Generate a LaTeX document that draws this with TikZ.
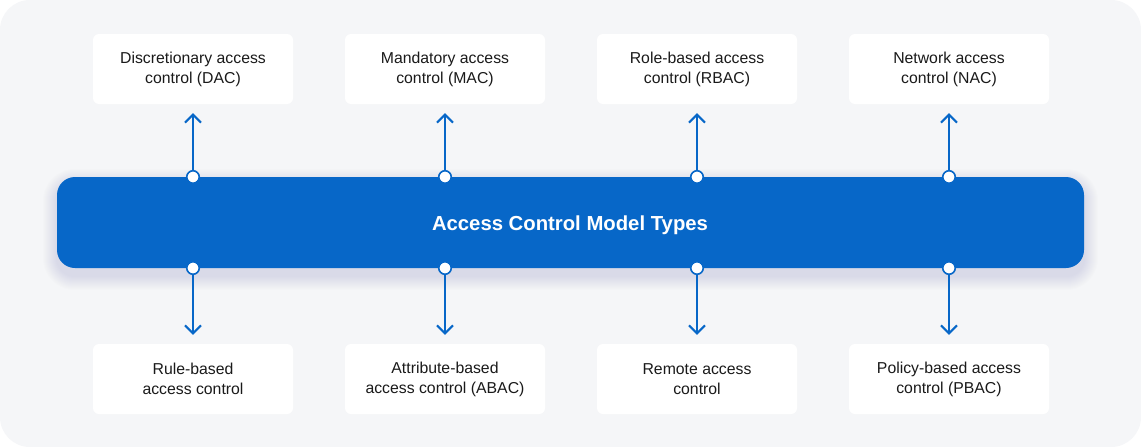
\documentclass[tikz,border=0pt]{standalone}
\usepackage{fontspec}
\setmainfont{Liberation Sans}
\usetikzlibrary{arrows.meta}
\definecolor{bgc}{HTML}{F5F6F8}
\definecolor{barc}{HTML}{0767C8}
\definecolor{txt}{HTML}{1A1A1A}
\definecolor{shc}{HTML}{6070A0}
\tikzset{
  x=1pt,y=-1pt,
  itembox/.style={draw=none,fill=white,rounded corners=6pt,minimum width=200pt,minimum height=70pt,
    align=center,font=\fontsize{15.8}{20}\selectfont,text=txt},
  bar/.style={fill=barc,rounded corners=18pt,minimum width=1027pt,minimum height=91pt},
  dot/.style={circle,draw=barc,fill=white,line width=1.6pt,inner sep=0pt,minimum size=12.5pt},
  conn/.style={draw=barc,line width=2pt,-{Straight Barb[length=8pt,width=16pt,line width=2pt]}}
}
\begin{document}
\begin{tikzpicture}
\useasboundingbox (0,0) rectangle (1141,447);
\fill[white] (0,0) rectangle (1141,447);
\fill[bgc,rounded corners=30pt] (0,0) rectangle (1141,447);
% soft shadow under the bar
\foreach \k in {1,...,14}{
  \fill[shc,opacity=0.012,rounded corners={18pt+\k pt}] (57-\k,183-\k) rectangle (1084+\k,276+\k);
}
\node[bar] (main) at (570.5,222.5) {};
\node[font=\fontsize{20.3}{24}\selectfont\bfseries,text=white] (title) at (570,225) {Access Control Model Types};
% top boxes
\node[itembox] (t1) at (193,69) {Discretionary access\\control (DAC)};
\node[itembox] (t2) at (445,69) {Mandatory access\\control (MAC)};
\node[itembox] (t3) at (697,69) {Role-based access\\control (RBAC)};
\node[itembox] (t4) at (949,69) {Network access\\control (NAC)};
% bottom boxes
\node[itembox] (b1) at (193,379) {Rule-based\\access control};
\node[itembox] (b2) at (445,379) {Attribute-based\\access control (ABAC)};
\node[itembox] (b3) at (697,379) {Remote access\\control};
\node[itembox] (b4) at (949,379) {Policy-based access\\control (PBAC)};
% dots
\foreach \i/\x in {1/193,2/445,3/697,4/949}{
  \node[dot] (u\i) at (\x,177) {};
  \node[dot] (d\i) at (\x,268) {};
}
\foreach \i in {1,...,4}{
  \draw[conn] (u\i.north) -- ([yshift=-9pt]t\i.south);
  \draw[conn] (d\i.south) -- ([yshift=9pt]b\i.north);
}
\end{tikzpicture}
\end{document}
